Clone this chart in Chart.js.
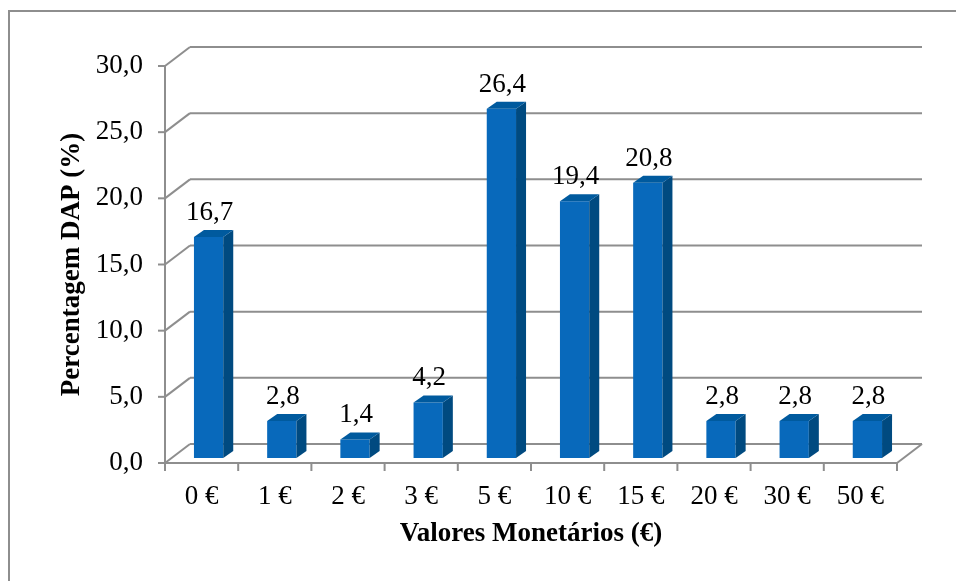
<!DOCTYPE html>
<html>
<head>
<meta charset="utf-8">
<script src="https://cdn.jsdelivr.net/npm/chart.js@4.4.0/dist/chart.umd.min.js"></script>
<style>
  body { margin: 0; background: #fff; }
  canvas { display: block; }
</style>
</head>
<body>
<canvas id="dapChart" width="956" height="581"></canvas>
<script>
const categories = ['0 €', '1 €', '2 €', '3 €', '5 €', '10 €', '15 €', '20 €', '30 €', '50 €'];
const percentages = [16.7, 2.8, 1.4, 4.2, 26.4, 19.4, 20.8, 2.8, 2.8, 2.8];
const yTicks = [0, 5, 10, 15, 20, 25, 30];

const serif = '"Liberation Serif", "Times New Roman", serif';
const lineGray = '#8e8e8e';

// bar plane sits a bit behind the front floor edge, back wall further back
const barShift = { x: 7, y: -5 };
const barDepth = { x: 10, y: -7 };
const wallShift = { x: 25, y: -19 };

function fmt(v) {
    return v.toFixed(1).replace('.', ',');
}

function line(ctx, x1, y1, x2, y2) {
    ctx.beginPath();
    ctx.moveTo(x1, y1);
    ctx.lineTo(x2, y2);
    ctx.stroke();
}

const frame3d = {
    id: 'frame3d',
    beforeDraw(chart) {
        const ctx = chart.ctx;
        ctx.save();
        ctx.strokeStyle = lineGray;
        ctx.lineWidth = 2;
        ctx.beginPath();
        ctx.moveTo(9, chart.height);
        ctx.lineTo(9, 11);
        ctx.lineTo(chart.width, 11);
        ctx.stroke();
        ctx.restore();
    },
    beforeDatasetsDraw(chart) {
        const ctx = chart.ctx;
        const { left, right, bottom } = chart.chartArea;
        const y = chart.scales.y;
        const x = chart.scales.x;
        ctx.save();
        ctx.strokeStyle = lineGray;
        ctx.lineWidth = 2;
        yTicks.forEach(t => {
            const py = y.getPixelForValue(t);
            line(ctx, left, py, left + wallShift.x, py + wallShift.y);
            line(ctx, left + wallShift.x, py + wallShift.y, right + wallShift.x, py + wallShift.y);
            line(ctx, left - 7, py, left, py);
        });
        // floor
        line(ctx, left, bottom, right, bottom);
        line(ctx, right, bottom, right + wallShift.x, bottom + wallShift.y);
        // front axis
        line(ctx, left, y.getPixelForValue(30), left, bottom);
        // category ticks
        for (let i = 0; i <= categories.length; i++) {
            const px = i < categories.length
                ? x.getPixelForValue(i) - (x.getPixelForValue(1) - x.getPixelForValue(0)) / 2
                : right;
            line(ctx, px, bottom, px, bottom + 8);
        }
        ctx.restore();
        ctx.save();
        ctx.translate(barShift.x, barShift.y);
    },
    afterDatasetsDraw(chart) {
        const ctx = chart.ctx;
        ctx.restore();
        const meta = chart.getDatasetMeta(0);
        ctx.save();
        ctx.translate(barShift.x, barShift.y);
        meta.data.forEach((bar, i) => {
            const l = bar.x - bar.width / 2;
            const r = bar.x + bar.width / 2;
            const top = bar.y;
            const base = bar.base;
            // side
            ctx.fillStyle = '#004a80';
            ctx.beginPath();
            ctx.moveTo(r, top);
            ctx.lineTo(r + barDepth.x, top + barDepth.y);
            ctx.lineTo(r + barDepth.x, base + barDepth.y);
            ctx.lineTo(r, base);
            ctx.closePath();
            ctx.fill();
            // top
            ctx.fillStyle = '#005a9e';
            ctx.beginPath();
            ctx.moveTo(l, top);
            ctx.lineTo(l + barDepth.x, top + barDepth.y);
            ctx.lineTo(r + barDepth.x, top + barDepth.y);
            ctx.lineTo(r, top);
            ctx.closePath();
            ctx.fill();
            // value label
            ctx.fillStyle = '#000';
            ctx.font = '27px ' + serif;
            ctx.textAlign = 'center';
            ctx.textBaseline = 'alphabetic';
            ctx.fillText(fmt(percentages[i]), bar.x + 1, top + barDepth.y - 10);
        });
        ctx.restore();
    }
};

const ctx = document.getElementById('dapChart').getContext('2d');
const chart = new Chart(ctx, {
    type: 'bar',
    data: {
        labels: categories,
        datasets: [{
            data: percentages,
            backgroundColor: '#0869bb',
            borderWidth: 0,
            categoryPercentage: 1,
            barPercentage: 0.4
        }]
    },
    options: {
        responsive: false,
        animation: false,
        layout: { padding: { left: 0, right: 59, top: 66, bottom: 0 } },
        plugins: {
            legend: { display: false },
            tooltip: { enabled: false }
        },
        scales: {
            x: {
                grid: { display: false, drawTicks: false },
                border: { display: false },
                ticks: {
                    color: '#000',
                    font: { family: serif, size: 27 },
                    padding: 18,
                    maxRotation: 0
                },
                title: {
                    display: true,
                    text: 'Valores Monetários (€)',
                    color: '#000',
                    font: { family: serif, size: 27, weight: 'bold' },
                    padding: { top: 0, bottom: 31 }
                },
                afterFit(scale) { scale.height = 118; }
            },
            y: {
                min: 0,
                max: 30,
                grid: { display: false, drawTicks: false },
                border: { display: false },
                ticks: {
                    stepSize: 5,
                    color: '#000',
                    font: { family: serif, size: 27 },
                    padding: 22,
                    callback: v => fmt(v)
                },
                title: {
                    display: true,
                    text: 'Percentagem DAP (%)',
                    color: '#000',
                    font: { family: serif, size: 27, weight: 'bold' },
                    padding: { top: 56, bottom: 0 }
                },
                afterFit(scale) { scale.width = 165; }
            }
        }
    },
    plugins: [frame3d]
});
</script>
</body>
</html>
